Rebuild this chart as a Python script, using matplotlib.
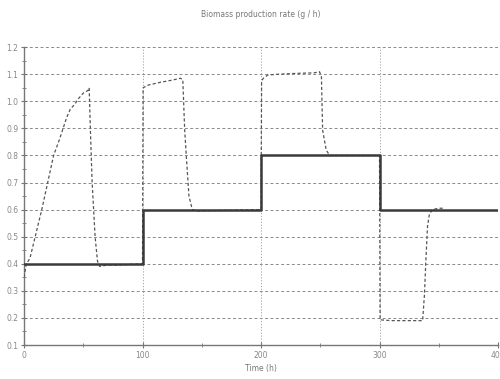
import numpy as np
import matplotlib
matplotlib.use('Agg')
import matplotlib.pyplot as plt

# Setpoint (step) - time in h, rate in g/h
Setpoint_time = [0, 100, 100, 200, 200, 300, 300, 400]
Setpoint_rate = [0.4, 0.4, 0.6, 0.6, 0.8, 0.8, 0.6, 0.6]

Measured_time = [0, 2, 5, 10, 15, 20, 25, 30, 33, 36, 39, 43, 46, 50, 54, 55,
                 56, 57.5, 60, 62, 64, 70, 78,
                 100, 100.5, 105, 115, 125, 132, 134, 135.6, 137, 139.2, 142, 146,
                 200, 200.5, 202, 205.7, 215, 230, 245, 249.4, 251, 252, 255, 258, 264,
                 300, 300.5, 310, 320, 330, 336.4, 338, 339, 340.5, 342, 344.5, 350, 354.5]
Measured_rate = [0.35, 0.40, 0.42, 0.51, 0.60, 0.70, 0.80, 0.86, 0.90, 0.94, 0.97, 0.99, 1.01, 1.03, 1.04, 1.05,
                 0.90, 0.70, 0.50, 0.41, 0.39, 0.395, 0.395,
                 0.40, 1.05, 1.06, 1.07, 1.078, 1.085, 1.08, 0.894, 0.795, 0.65, 0.60, 0.595,
                 0.60, 1.075, 1.085, 1.097, 1.10, 1.103, 1.105, 1.109, 1.09, 0.894, 0.82, 0.80, 0.80,
                 0.80, 0.193, 0.19, 0.19, 0.19, 0.19, 0.29, 0.40, 0.537, 0.58, 0.60, 0.605, 0.605]


def main():
    fig = plt.figure(figsize=(5.0, 3.79), dpi=100)
    ax = fig.add_axes([0.048, 0.0897, 0.948, 0.786])

    ax.plot(Measured_time, Measured_rate, color='#555555', linewidth=0.9,
            linestyle=(0, (2.5, 1.8)), zorder=3)
    ax.plot(Setpoint_time, Setpoint_rate, color='#3a3a3a', linewidth=1.8, zorder=4)

    ax.set_xlim(0, 400)
    ax.set_ylim(0.1, 1.2)
    ax.set_xticks([0, 100, 200, 300, 400])
    ax.set_xticks([50, 150, 250, 350], minor=True)
    ax.set_yticks(np.round(np.arange(0.1, 1.21, 0.1), 1))
    ax.set_yticks(np.round(np.arange(0.15, 1.2, 0.1), 2), minor=True)
    ax.set_yticklabels(['%.1f' % v for v in np.arange(0.1, 1.21, 0.1)])

    # grid
    for yv in np.arange(0.2, 1.21, 0.1):
        ax.axhline(yv, color='#8a8a8a', linewidth=0.7, linestyle=(0, (3, 2.5)), zorder=1)
    for xv in [100, 200, 300, 400]:
        ax.axvline(xv, color='#9a9a9a', linewidth=0.6, linestyle=(0, (1.5, 2)), zorder=1)

    ax.spines['top'].set_visible(False)
    ax.spines['right'].set_visible(False)
    ax.spines['left'].set_color('#777777')
    ax.spines['bottom'].set_color('#777777')
    ax.spines['left'].set_linewidth(1.0)
    ax.spines['bottom'].set_linewidth(1.0)

    ax.tick_params(axis='both', which='major', direction='inout', length=4,
                   color='#777777', labelsize=5.5, labelcolor='#888888', pad=2)
    ax.tick_params(axis='both', which='minor', direction='inout', length=3,
                   color='#777777')

    ax.set_title('Biomass production rate (g / h)', fontsize=5.5, color='#777777', pad=22)
    ax.set_xlabel('Time (h)', fontsize=5.5, color='#777777', labelpad=3)

    fig.savefig('out.png', dpi=100)


if __name__ == "__main__":
    main()
